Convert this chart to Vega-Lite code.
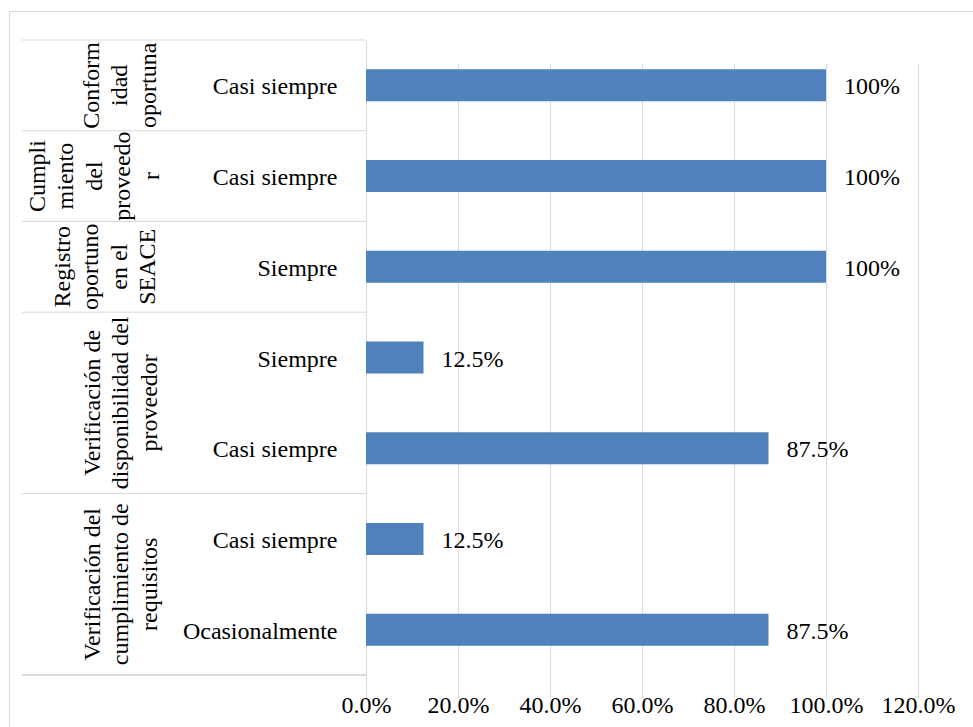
{
  "$schema": "https://vega.github.io/schema/vega-lite/v6.json",
  "width": 964,
  "height": 716,
  "autosize": {"type": "none"},
  "padding": {"left": 9, "top": 11, "right": 0, "bottom": 0},
  "background": "#ffffff",
  "config": {
    "font": "Liberation Serif",
    "view": {"stroke": "#D9D9D9", "strokeWidth": 1},
    "text": {"font": "Liberation Serif", "fontSize": 24, "fill": "#000000"}
  },
  "datasets": {
    "filas": [
      {"fila": "Conformidad oportuna · Casi siempre", "grupo": "Conformidad oportuna", "respuesta": "Casi siempre", "porcentaje": 1},
      {"fila": "Cumplimiento del proveedor · Casi siempre", "grupo": "Cumplimiento del proveedor", "respuesta": "Casi siempre", "porcentaje": 1},
      {"fila": "Registro oportuno en el SEACE · Siempre", "grupo": "Registro oportuno en el SEACE", "respuesta": "Siempre", "porcentaje": 1},
      {"fila": "Verificación de disponibilidad del proveedor · Siempre", "grupo": "Verificación de disponibilidad del proveedor", "respuesta": "Siempre", "porcentaje": 0.125},
      {"fila": "Verificación de disponibilidad del proveedor · Casi siempre", "grupo": "Verificación de disponibilidad del proveedor", "respuesta": "Casi siempre", "porcentaje": 0.875},
      {"fila": "Verificación del cumplimiento de requisitos · Casi siempre", "grupo": "Verificación del cumplimiento de requisitos", "respuesta": "Casi siempre", "porcentaje": 0.125},
      {"fila": "Verificación del cumplimiento de requisitos · Ocasionalmente", "grupo": "Verificación del cumplimiento de requisitos", "respuesta": "Ocasionalmente", "porcentaje": 0.875}
    ],
    "grupos": [
      {"grupo": "Conformidad oportuna", "etiqueta": "Conform\nidad\noportuna", "desde": "Conformidad oportuna · Casi siempre", "hasta": "Conformidad oportuna · Casi siempre", "filas": 1},
      {"grupo": "Cumplimiento del proveedor", "etiqueta": "Cumpli\nmiento\ndel\nproveedo\nr", "desde": "Cumplimiento del proveedor · Casi siempre", "hasta": "Cumplimiento del proveedor · Casi siempre", "filas": 1},
      {"grupo": "Registro oportuno en el SEACE", "etiqueta": "Registro\noportuno\nen el\nSEACE", "desde": "Registro oportuno en el SEACE · Siempre", "hasta": "Registro oportuno en el SEACE · Siempre", "filas": 1},
      {"grupo": "Verificación de disponibilidad del proveedor", "etiqueta": "Verificación de\ndisponibilidad del\nproveedor", "desde": "Verificación de disponibilidad del proveedor · Siempre", "hasta": "Verificación de disponibilidad del proveedor · Casi siempre", "filas": 2},
      {"grupo": "Verificación del cumplimiento de requisitos", "etiqueta": "Verificación del\ncumplimiento de\nrequisitos", "desde": "Verificación del cumplimiento de requisitos · Casi siempre", "hasta": "Verificación del cumplimiento de requisitos · Ocasionalmente", "filas": 2}
    ]
  },
  "layer": [
    {
      "data": {"name": "filas"},
      "layer": [
        {
          "mark": {"type": "bar", "color": "#4F81BD", "height": {"band": 0.353}},
          "encoding": {
            "y": {
              "field": "fila",
              "type": "nominal",
              "scale": {
                "domain": [
                  "Conformidad oportuna · Casi siempre",
                  "Cumplimiento del proveedor · Casi siempre",
                  "Registro oportuno en el SEACE · Siempre",
                  "Verificación de disponibilidad del proveedor · Siempre",
                  "Verificación de disponibilidad del proveedor · Casi siempre",
                  "Verificación del cumplimiento de requisitos · Casi siempre",
                  "Verificación del cumplimiento de requisitos · Ocasionalmente"
                ],
                "range": [29, 664],
                "paddingInner": 0,
                "paddingOuter": 0
              },
              "axis": {
                "orient": "left",
                "offset": -357,
                "title": null,
                "ticks": false,
                "grid": false,
                "domain": true,
                "domainColor": "#D9D9D9",
                "domainWidth": 1,
                "labelExpr": "split(datum.label, ' · ')[1]",
                "labelFont": "Liberation Serif",
                "labelFontSize": 24,
                "labelColor": "#000000",
                "labelPadding": 29,
                "labelLimit": 0,
                "labelOffset": 2
              }
            },
            "x": {
              "field": "porcentaje",
              "type": "quantitative",
              "scale": {"domain": [0, 1.2], "range": [357, 909], "nice": false, "zero": true},
              "axis": {
                "orient": "bottom",
                "offset": -52,
                "title": null,
                "values": [0, 0.2, 0.4, 0.6, 0.8, 1, 1.2],
                "format": ".1%",
                "domain": false,
                "ticks": false,
                "grid": true,
                "gridColor": "#D9D9D9",
                "gridWidth": 1,
                "labelFont": "Liberation Serif",
                "labelFontSize": 24,
                "labelColor": "#000000",
                "labelPadding": 18,
                "labelFlush": false,
                "labelOverlap": false
              }
            }
          }
        },
        {
          "mark": {"type": "text", "align": "left", "baseline": "middle", "dx": 18, "dy": 2},
          "encoding": {
            "y": {"field": "fila", "type": "nominal"},
            "x": {"field": "porcentaje", "type": "quantitative"},
            "text": {"field": "porcentaje", "type": "quantitative", "format": ".1~%"}
          }
        }
      ]
    },
    {
      "data": {"name": "grupos"},
      "layer": [
        {
          "mark": {"type": "rule", "color": "#D9D9D9", "strokeWidth": 1},
          "encoding": {
            "y": {"field": "desde", "type": "nominal", "bandPosition": 0},
            "x": {"datum": 0, "type": "quantitative", "scale": {"domain": [0, 1], "range": [13, 357], "nice": false}, "axis": null},
            "x2": {"datum": 1}
          }
        },
        {
          "mark": {"type": "rule", "color": "#D9D9D9", "strokeWidth": 1},
          "encoding": {
            "y": {"datum": "Verificación del cumplimiento de requisitos · Ocasionalmente", "type": "nominal", "bandPosition": 1},
            "x": {"datum": 0, "type": "quantitative"},
            "x2": {"datum": 1}
          }
        },
        {
          "transform": [{"filter": "datum.filas == 1 && length(split(datum.etiqueta, '\\n')) == 3"}],
          "mark": {"type": "text", "angle": 270, "align": "center", "baseline": "bottom", "lineBreak": "\n", "lineHeight": 28.5},
          "encoding": {
            "y": {"field": "desde", "type": "nominal", "bandPosition": 0.5},
            "x": {"datum": 0.237, "type": "quantitative"},
            "text": {"field": "etiqueta"}
          }
        },
        {
          "transform": [{"filter": "datum.filas == 1 && length(split(datum.etiqueta, '\\n')) == 4"}],
          "mark": {"type": "text", "angle": 270, "align": "center", "baseline": "bottom", "lineBreak": "\n", "lineHeight": 28.5},
          "encoding": {
            "y": {"field": "desde", "type": "nominal", "bandPosition": 0.5},
            "x": {"datum": 0.153, "type": "quantitative"},
            "text": {"field": "etiqueta"}
          }
        },
        {
          "transform": [{"filter": "datum.filas == 1 && length(split(datum.etiqueta, '\\n')) == 5"}],
          "mark": {"type": "text", "angle": 270, "align": "center", "baseline": "bottom", "lineBreak": "\n", "lineHeight": 28.5},
          "encoding": {
            "y": {"field": "desde", "type": "nominal", "bandPosition": 0.5},
            "x": {"datum": 0.08, "type": "quantitative"},
            "text": {"field": "etiqueta"}
          }
        },
        {
          "transform": [{"filter": "datum.filas == 2"}],
          "mark": {"type": "text", "angle": 270, "align": "center", "baseline": "bottom", "lineBreak": "\n", "lineHeight": 28.5},
          "encoding": {
            "y": {"field": "desde", "type": "nominal", "bandPosition": 1},
            "x": {"datum": 0.24, "type": "quantitative"},
            "text": {"field": "etiqueta"}
          }
        }
      ]
    }
  ],
  "resolve": {"scale": {"x": "independent"}, "axis": {"x": "independent"}}
}
